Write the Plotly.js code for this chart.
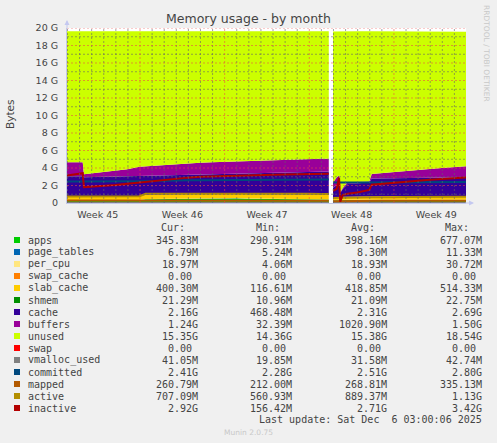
<!DOCTYPE html>
<html><head><meta charset="utf-8">
<script src="https://cdn.plot.ly/plotly-3.0.1.min.js"></script>
<style>html,body{margin:0;padding:0;background:#f0f0f0;}</style>
</head><body><div id="chart" style="width:497px;height:443px;"></div>
<script>
// ---- time axis (days since start of the month window); index 25 is the data gap ----
const days = [0,1.3,1.4,2,3,4,5,6,6.5,7,8,9,10,11,12,13,14,15,16,17,18,19,20,21,21.65, 21.8, 22.0,22.3,22.5,22.6,22.8,23.2,24,25,25.2,26,27,28,29,30,31,32,33];

// ---- stacked areas (GB) ----
const apps = [0.30,0.30,0.30,0.30,0.29,0.30,0.31,0.31,0.42,0.43,0.44,0.45,0.46,0.47,0.48,0.50,0.52,0.48,0.46,0.45,0.44,0.44,0.43,0.42,0.40, null, 0.30,0.32,0.34,0.36,0.36,0.35,0.35,0.36,0.37,0.36,0.36,0.35,0.35,0.35,0.35,0.35,0.35];
const pageTables = [0.009,0.009,0.009,0.009,0.009,0.009,0.009,0.009,0.010,0.010,0.010,0.010,0.010,0.010,0.011,0.011,0.011,0.010,0.010,0.010,0.009,0.009,0.009,0.009,0.009, null, 0.005,0.006,0.006,0.006,0.006,0.006,0.007,0.007,0.007,0.007,0.007,0.007,0.007,0.007,0.007,0.007,0.007];
const perCpu = [0.019,0.019,0.019,0.019,0.019,0.019,0.019,0.019,0.019,0.019,0.019,0.019,0.019,0.019,0.019,0.019,0.019,0.019,0.019,0.019,0.019,0.019,0.019,0.019,0.019, null, 0.004,0.010,0.015,0.018,0.019,0.019,0.019,0.019,0.019,0.019,0.019,0.019,0.019,0.019,0.019,0.019,0.019];
const swapCache = [0,0,0,0,0,0,0,0,0,0,0,0,0,0,0,0,0,0,0,0,0,0,0,0,0, null, 0,0,0,0,0,0,0,0,0,0,0,0,0,0,0,0,0];
const slabCache = [0.42,0.42,0.42,0.42,0.43,0.43,0.44,0.44,0.48,0.48,0.49,0.49,0.50,0.50,0.50,0.50,0.50,0.50,0.50,0.50,0.50,0.50,0.50,0.51,0.51, null, 0.12,0.20,0.25,0.28,0.30,0.33,0.36,0.38,0.39,0.39,0.40,0.40,0.40,0.40,0.40,0.40,0.40];
const shmem = [0.021,0.021,0.021,0.021,0.021,0.021,0.021,0.021,0.021,0.021,0.021,0.021,0.021,0.021,0.022,0.022,0.022,0.021,0.021,0.021,0.021,0.021,0.021,0.021,0.021, null, 0.011,0.015,0.018,0.019,0.020,0.020,0.021,0.021,0.021,0.021,0.021,0.021,0.021,0.021,0.021,0.021,0.021];
const cache = [2.28,2.28,2.18,2.20,2.23,2.22,2.22,2.25,2.13,2.14,2.17,2.21,2.24,2.28,2.30,2.31,2.33,2.40,2.45,2.50,2.51,2.53,2.57,2.60,2.64, null, 1.30,1.55,1.60,0.47,0.90,1.45,1.50,1.55,2.00,2.02,2.04,2.06,2.08,2.10,2.12,2.14,2.16];
const buffers = [1.60,1.60,0.35,0.43,0.50,0.65,0.83,1.10,1.12,1.15,1.20,1.25,1.30,1.30,1.32,1.34,1.32,1.37,1.39,1.40,1.40,1.43,1.45,1.47,1.45, null, 0.60,0.80,0.90,0.04,0.10,0.20,0.15,0.12,0.50,0.60,0.70,0.80,0.90,1.00,1.08,1.16,1.24];
const unused = [14.97,14.97,16.32,16.22,16.12,15.97,15.77,15.47,15.42,15.37,15.27,15.17,15.07,15.02,14.97,14.92,14.90,14.82,14.77,14.72,14.72,14.67,14.62,14.57,14.57, null, 17.25,16.70,16.48,18.42,17.91,17.24,17.21,17.16,16.31,16.20,16.07,15.96,15.84,15.72,15.62,15.52,15.38];
const swap = [0,0,0,0,0,0,0,0,0,0,0,0,0,0,0,0,0,0,0,0,0,0,0,0,0, null, 0,0,0,0,0,0,0,0,0,0,0,0,0,0,0,0,0];

// ---- lines (GB) ----
const vmallocUsed = [0.030,0.030,0.030,0.031,0.031,0.031,0.032,0.032,0.033,0.033,0.033,0.034,0.034,0.034,0.035,0.035,0.035,0.036,0.036,0.036,0.037,0.037,0.037,0.038,0.038, null, 0.019,0.022,0.025,0.026,0.027,0.028,0.030,0.031,0.032,0.033,0.034,0.035,0.036,0.037,0.038,0.039,0.040];
const committed = [2.45,2.45,2.40,2.42,2.44,2.46,2.48,2.50,2.52,2.53,2.55,2.57,2.60,2.61,2.62,2.63,2.64,2.65,2.66,2.67,2.68,2.68,2.69,2.70,2.70, null, 2.33,2.35,2.36,2.30,2.32,2.33,2.34,2.34,2.35,2.35,2.36,2.37,2.38,2.38,2.39,2.40,2.41];
const mapped = [0.28,0.28,0.27,0.27,0.27,0.27,0.28,0.28,0.29,0.29,0.30,0.30,0.31,0.31,0.32,0.33,0.33,0.30,0.29,0.28,0.28,0.28,0.27,0.27,0.27, null, 0.21,0.22,0.23,0.23,0.24,0.24,0.25,0.25,0.25,0.26,0.26,0.26,0.26,0.26,0.26,0.26,0.26];
const active = [0.75,0.75,0.74,0.74,0.75,0.76,0.76,0.77,1.05,1.05,1.06,1.07,1.08,1.08,1.10,1.12,1.13,1.10,1.08,1.07,1.06,1.05,1.05,1.04,1.04, null, 0.56,0.58,0.60,0.61,0.62,0.63,0.64,0.65,0.66,0.66,0.67,0.68,0.68,0.69,0.70,0.70,0.71];
const inactive = [3.15,3.40,1.80,1.85,1.95,2.05,2.20,2.35,2.42,2.50,2.65,2.80,2.90,3.00,3.05,3.10,3.12,3.15,3.20,3.22,3.25,3.28,3.30,3.32,3.35, null, 1.40,1.60,2.90,0.16,0.90,1.05,1.20,1.50,2.10,2.20,2.35,2.45,2.55,2.65,2.75,2.85,2.92];

// ---- axis ticks ----
const yTickVals = [0,2,4,6,8,10,12,14,16,18,20];
const yTickText = ['0','2 G','4 G','6 G','8 G','10 G','12 G','14 G','16 G','18 G','20 G'];
const weekTickVals = [2.54,9.54,16.54,23.54,30.54];
const weekTickText = ['Week 45','Week 46','Week 47','Week 48','Week 49'];

// ---- legend table ----
const legendNames = ['apps','page_tables','per_cpu','swap_cache','slab_cache','shmem','cache','buffers','unused','swap','vmalloc_used','committed','mapped','active','inactive'];
const legendColors = ['#00CC00','#0066B3','#FFE680','#FF8000','#FFCC00','#008F00','#330099','#990099','#CCFF00','#FF0000','#808080','#00487D','#B35A00','#B38F00','#B30000'];
const legendCur = ['345.83M','6.79M','18.97M','0.00','400.30M','21.29M','2.16G','1.24G','15.35G','0.00','41.05M','2.41G','260.79M','707.09M','2.92G'];
const legendMin = ['290.91M','5.24M','4.06M','0.00','116.61M','10.96M','468.48M','32.39M','14.36G','0.00','19.85M','2.28G','212.00M','560.93M','156.42M'];
const legendAvg = ['398.16M','8.30M','18.93M','0.00','418.85M','21.09M','2.31G','1020.90M','15.38G','0.00','31.58M','2.51G','268.81M','889.37M','2.71G'];
const legendMax = ['677.07M','11.33M','30.72M','0.00','514.33M','22.75M','2.69G','1.50G','18.54G','0.00','42.74M','2.80G','335.13M','1.13G','3.42G'];

// ---- build ----
const W = 497, H = 443, L = 67, R = 466, T = 28, B = 203;
const px = v => (v - L) / (R - L);
const py = v => (B - v) / (B - T);

const areaSeries = [
  {y: apps, c: legendColors[0]}, {y: pageTables, c: legendColors[1]}, {y: perCpu, c: legendColors[2]},
  {y: swapCache, c: legendColors[3]}, {y: slabCache, c: legendColors[4]}, {y: shmem, c: legendColors[5]},
  {y: cache, c: legendColors[6]}, {y: buffers, c: legendColors[7]}, {y: unused, c: legendColors[8]},
  {y: swap, c: legendColors[9]}
];
const lineSeries = [
  {y: vmallocUsed, c: legendColors[10]}, {y: committed, c: legendColors[11]},
  {y: mapped, c: legendColors[12]}, {y: active, c: legendColors[13]}, {y: inactive, c: legendColors[14]}
];

// split into contiguous segments around the null gap
const segments = [];
let cur = [];
days.forEach((d, i) => {
  if (apps[i] === null) { if (cur.length) segments.push(cur); cur = []; }
  else cur.push(i);
});
if (cur.length) segments.push(cur);

const traces = [];
segments.forEach((seg, si) => {
  areaSeries.forEach(s => {
    traces.push({
      type: 'scatter', mode: 'lines', stackgroup: 'g' + si,
      x: seg.map(i => days[i]), y: seg.map(i => s.y[i]),
      line: {width: 0, color: s.c}, fillcolor: s.c, hoverinfo: 'skip', showlegend: false
    });
  });
});
lineSeries.forEach(s => {
  traces.push({type: 'scatter', mode: 'lines', x: days, y: s.y,
    line: {width: 2, color: s.c}, connectgaps: false, hoverinfo: 'skip', showlegend: false});
});

// grid drawn above the areas (RRDtool style)
const shapes = [];
const minorC = 'rgba(100,100,100,0.6)', majorC = 'rgba(235,70,70,0.55)';
const dash = '2px,2px';
for (let g = 1; g <= 20; g++) {
  if (g % 2 === 1) shapes.push({type: 'line', layer: 'above', xref: 'x', yref: 'y', x0: 0, x1: 33, y0: g, y1: g, line: {color: minorC, width: 1, dash: dash}});
}
for (let k = 0; k <= 32; k++) {
  const d = 0.04 + k;
  if ((k - 6) % 7 !== 0) shapes.push({type: 'line', layer: 'above', xref: 'x', yref: 'y', x0: d, x1: d, y0: 0, y1: 20, line: {color: minorC, width: 1, dash: dash}});
}
for (let g = 2; g <= 20; g += 2) {
  shapes.push({type: 'line', layer: 'above', xref: 'x', yref: 'y', x0: 0, x1: 33, y0: g, y1: g, line: {color: majorC, width: 1, dash: dash}});
}
for (let k = 6; k <= 32; k += 7) {
  const d = 0.04 + k;
  shapes.push({type: 'line', layer: 'above', xref: 'x', yref: 'y', x0: d, x1: d, y0: 0, y1: 20, line: {color: majorC, width: 1, dash: dash}});
}

const annotations = [];
const mono = {family: 'DejaVu Sans Mono', size: 10, color: '#444'};
const nb = s => s.replace(/ /g, '\u00A0');
function txt(text, x, y, anchor, font) {
  annotations.push({text: nb(text), x: px(x), y: py(y), xref: 'paper', yref: 'paper', xanchor: anchor, yanchor: 'middle', showarrow: false, borderpad: 0, font: font || mono});
}
txt('Cur:', 186, 227.5, 'right');
txt('Min:', 281, 227.5, 'right');
txt('Avg:', 376, 227.5, 'right');
txt('Max:', 470, 227.5, 'right');
const colRight = [199, 293, 388, 483];
legendNames.forEach((n, i) => {
  const y = 240 + 12 * i;
  shapes.push({type: 'rect', xref: 'paper', yref: 'paper', x0: px(14), x1: px(20), y0: py(y + 3), y1: py(y - 3), line: {width: 0}, fillcolor: legendColors[i]});
  txt(n, 26.5, y, 'left');
  [legendCur[i], legendMin[i], legendAvg[i], legendMax[i]].forEach((v, c) => {
    const noUnit = /[0-9]$/.test(v);
    txt(v, colRight[c] - (noUnit ? 6 : 0), y, 'right');
  });
});
txt('Last update: Sat Dec  6 03:00:06 2025', 483, 419.7, 'right');
txt('Munin 2.0.75', 248.5, 432, 'center', {family: 'DejaVu Sans', size: 7.5, color: '#c8c8c8'});
annotations.push({text: 'Bytes', x: px(10), y: py(115), xref: 'paper', yref: 'paper', xanchor: 'center', yanchor: 'middle', textangle: -90, showarrow: false, font: {family: 'DejaVu Sans', size: 10.5, color: '#444'}});
annotations.push({text: 'RRDTOOL / TOBI OETIKER', x: px(487), y: py(53), xref: 'paper', yref: 'paper', xanchor: 'center', yanchor: 'middle', textangle: 90, showarrow: false, font: {family: 'DejaVu Sans', size: 7.5, color: '#c8c8c8'}});
// axis arrows
annotations.push({text: '', x: px(67), y: py(20), xref: 'paper', yref: 'paper', showarrow: true, ax: 0, ay: 10, arrowhead: 2, arrowsize: 1, arrowwidth: 1, arrowcolor: '#c4c8f0'});
annotations.push({text: '', x: px(474), y: py(203), xref: 'paper', yref: 'paper', showarrow: true, ax: -10, ay: 0, arrowhead: 2, arrowsize: 1, arrowwidth: 1, arrowcolor: '#c4c8f0'});

const layout = {
  width: W, height: H,
  margin: {l: L, r: W - R, t: T, b: H - B, pad: 0},
  paper_bgcolor: '#f0f0f0', plot_bgcolor: '#ffffff',
  font: {family: 'DejaVu Sans', size: 9.5, color: '#444'},
  title: {text: 'Memory usage - by month', xref: 'container', yref: 'container', x: 0.5, y: 1 - 19 / H, xanchor: 'center', yanchor: 'middle', font: {family: 'DejaVu Sans', size: 12.5, color: '#444'}},
  showlegend: false, hovermode: false,
  xaxis: {range: [0, 33], tickvals: weekTickVals, ticktext: weekTickText, ticks: '', showgrid: false, zeroline: false,
    showline: true, linecolor: '#c4c8e8', linewidth: 1, ticklabelstandoff: 3, tickfont: {size: 9.5, color: '#444'}, fixedrange: true},
  yaxis: {range: [0, 20], tickvals: yTickVals, ticktext: yTickText, ticks: '', showgrid: false, zeroline: false,
    showline: true, linecolor: '#c4c8e8', linewidth: 1, ticklabelstandoff: 6, tickfont: {size: 9.5, color: '#444'}, fixedrange: true},
  shapes: shapes, annotations: annotations
};
Plotly.newPlot('chart', traces, layout, {staticPlot: true, displayModeBar: false});
</script></body></html>
